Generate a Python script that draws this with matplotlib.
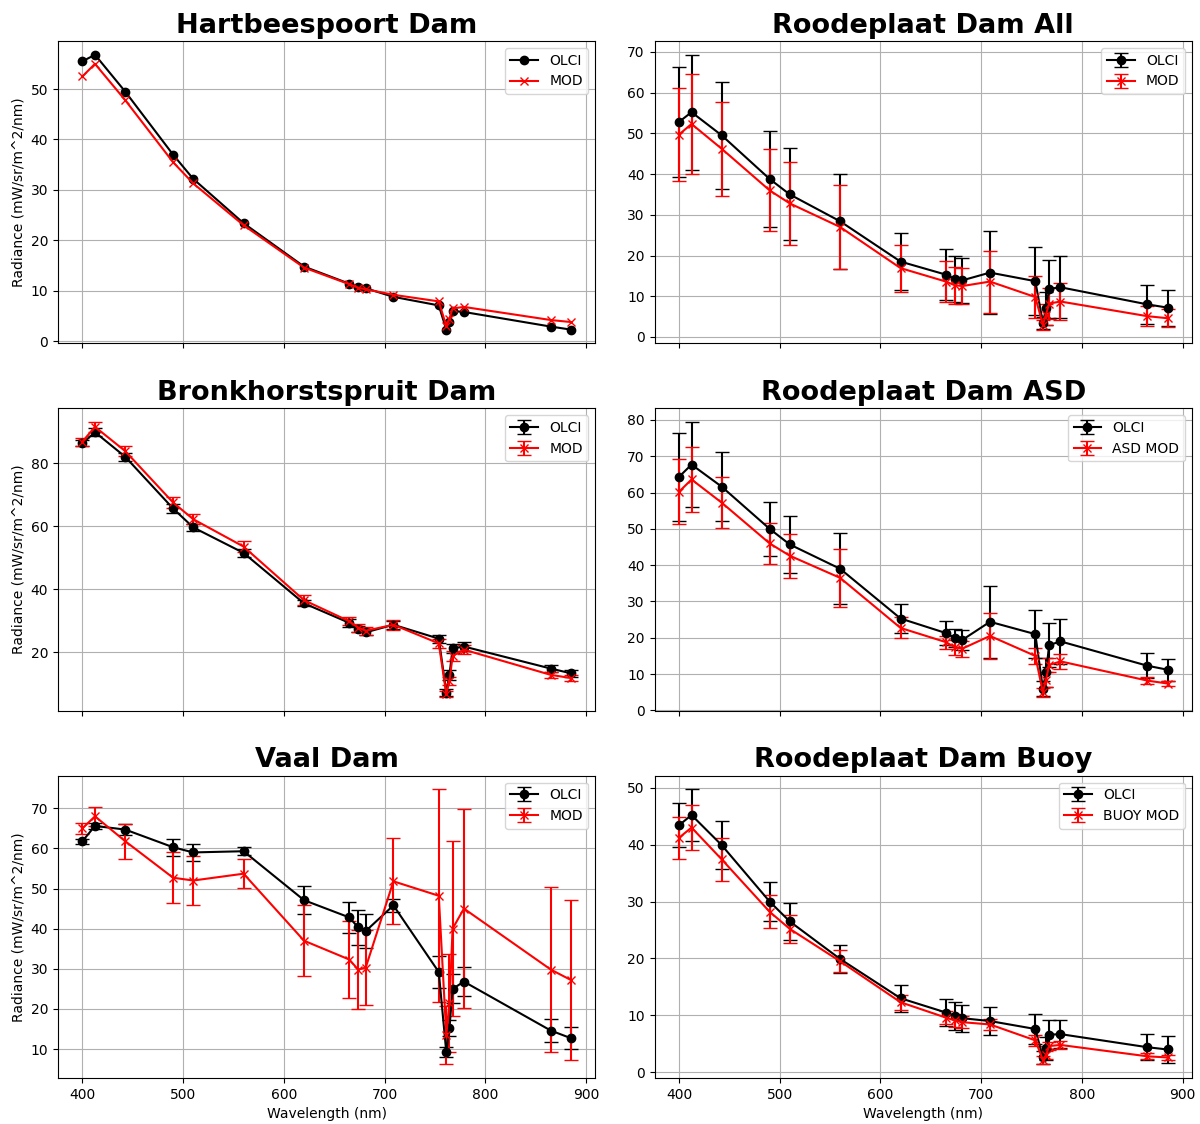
import matplotlib
matplotlib.use("Agg")
from matplotlib import pyplot as plt

# OLCI band centres (nm)
wavelength = [400, 412.5, 442.5, 490, 510, 560, 620, 665, 673.75, 681.25,
              708.75, 753.75, 761.25, 764.375, 767.5, 778.75, 865, 885]

# Hartbeespoort Dam
hart_olci = [55.5, 56.8, 49.5, 37.0, 32.2, 23.4, 14.8, 11.4, 10.8, 10.5,
             8.8, 7.1, 2.3, 3.8, 6.0, 5.8, 2.9, 2.3]
hart_mod = [52.5, 55.0, 47.8, 35.5, 31.3, 23.0, 14.6, 11.3, 10.6, 10.3,
            9.2, 7.9, 3.0, 4.5, 6.5, 6.8, 4.2, 3.8]

# Roodeplaat Dam All
rall_olci = [52.8, 55.2, 49.5, 38.8, 35.0, 28.4, 18.5, 15.3, 14.3, 13.9,
             15.8, 13.7, 3.5, 7.0, 11.8, 12.2, 8.0, 7.2]
rall_olci_err = [13.5, 14.1, 13.2, 11.7, 11.3, 11.6, 7.0, 6.2, 5.6, 5.6,
                 10.2, 8.3, 1.5, 4.0, 7.2, 7.6, 4.7, 4.4]
rall_mod = [49.7, 52.3, 46.2, 36.0, 32.8, 27.0, 16.9, 13.6, 12.7, 12.5,
            13.6, 9.8, 3.0, 5.5, 8.2, 8.7, 5.1, 4.6]
rall_mod_err = [11.5, 12.3, 11.6, 10.1, 10.1, 10.2, 5.8, 5.1, 4.5, 4.5,
                7.6, 5.1, 1.2, 2.5, 3.8, 4.5, 2.4, 2.2]

# Bronkhorstspruit Dam
bronk_olci = [86.3, 89.8, 82.0, 65.6, 59.6, 51.5, 35.5, 29.3, 27.3, 26.3,
              28.7, 24.3, 7.2, 12.8, 21.2, 21.8, 14.8, 13.3]
bronk_olci_err = [1.0, 1.2, 1.2, 1.3, 1.2, 1.2, 1.0, 1.2, 1.0, 1.0,
                  1.2, 1.3, 1.2, 1.5, 1.3, 1.3, 1.2, 1.2]
bronk_mod = [86.8, 91.5, 83.8, 67.5, 62.2, 53.5, 36.5, 29.8, 27.8, 26.8,
             28.7, 22.8, 6.8, 10.8, 18.8, 20.8, 12.8, 11.8]
bronk_mod_err = [1.3, 1.5, 1.5, 1.7, 1.6, 1.8, 1.5, 1.3, 1.3, 1.2,
                 1.6, 1.5, 1.0, 1.3, 1.5, 1.4, 1.0, 1.0]

# Roodeplaat Dam ASD
rasd_olci = [64.3, 67.7, 61.6, 50.0, 45.7, 39.0, 25.3, 21.3, 20.0, 19.4,
             24.4, 21.0, 6.0, 10.5, 18.0, 19.0, 12.3, 11.2]
rasd_olci_err = [12.1, 11.7, 9.5, 7.5, 7.8, 9.8, 4.0, 3.4, 2.5, 2.8,
                 9.9, 6.7, 2.0, 4.0, 6.0, 6.3, 3.4, 3.0]
rasd_mod = [60.2, 63.6, 57.2, 46.0, 42.6, 36.5, 22.7, 18.8, 17.4, 17.0,
            20.5, 15.0, 5.0, 8.5, 12.5, 13.5, 8.2, 7.4]
rasd_mod_err = [9.0, 9.0, 7.1, 5.7, 6.1, 8.0, 2.9, 1.8, 2.1, 2.2,
                6.3, 2.2, 1.3, 2.0, 2.0, 2.0, 0.9, 0.8]

# Vaal Dam
vaal_olci = [61.8, 65.6, 64.7, 60.3, 59.0, 59.3, 47.1, 42.8, 40.3, 39.4,
             45.8, 29.2, 9.2, 15.2, 25.0, 26.8, 14.6, 12.7]
vaal_olci_err = [0.6, 0.8, 1.4, 2.1, 2.2, 1.0, 3.5, 3.8, 4.3, 4.3,
                 1.6, 4.0, 1.3, 2.0, 3.6, 3.7, 2.9, 2.8]
vaal_mod = [65.0, 68.0, 61.8, 52.7, 52.0, 53.7, 37.0, 32.3, 29.8, 30.3,
            51.8, 48.2, 13.5, 21.5, 40.0, 45.0, 29.8, 27.2]
vaal_mod_err = [1.3, 2.4, 4.4, 6.3, 6.1, 3.6, 8.9, 9.6, 9.8, 9.3,
                10.7, 26.5, 7.3, 12.2, 21.8, 24.7, 20.6, 19.9]

# Roodeplaat Dam Buoy
rbuoy_olci = [43.4, 45.2, 39.9, 30.0, 26.5, 19.9, 13.0, 10.5, 9.9, 9.5,
              9.0, 7.6, 2.6, 4.2, 6.6, 6.7, 4.4, 4.0]
rbuoy_olci_err = [3.9, 4.5, 4.2, 3.5, 3.2, 2.4, 2.4, 2.4, 2.4, 2.4,
                  2.4, 2.7, 1.2, 2.0, 2.5, 2.5, 2.3, 2.3]
rbuoy_mod = [41.2, 43.0, 37.4, 28.2, 25.2, 19.5, 12.3, 9.6, 9.1, 8.8,
             8.4, 5.6, 2.2, 3.0, 4.6, 4.8, 2.8, 2.6]
rbuoy_mod_err = [3.7, 4.0, 3.8, 2.9, 2.5, 1.9, 1.3, 1.2, 1.1, 1.1,
                 0.9, 0.9, 0.7, 0.7, 0.7, 0.7, 0.5, 0.5]

ylabel = 'Radiance (mW/sr/m^2/nm)'

fig, axes = plt.subplots(3, 2, sharex=True, figsize=(12, 11.24), dpi=100)
fig.subplots_adjust(left=0.0483, right=0.9933, top=0.9635, bottom=0.0409,
                    wspace=0.11, hspace=0.215)


def err_panel(ax, title, olci, olci_err, mod, mod_err, mod_label='MOD'):
    ax.errorbar(wavelength, olci, yerr=olci_err, color='k', marker='o',
                capsize=5, label='OLCI')
    ax.errorbar(wavelength, mod, yerr=mod_err, color='r', marker='x',
                capsize=5, label=mod_label)
    ax.set_title(title, fontsize=19.5, fontweight='bold')
    ax.legend(loc='upper right')
    ax.grid()


# first panel has no uncertainties
ax = axes[0, 0]
ax.plot(wavelength, hart_olci, 'k-o', label='OLCI')
ax.plot(wavelength, hart_mod, 'r-x', label='MOD')
ax.set_title('Hartbeespoort Dam', fontsize=19.5, fontweight='bold')
ax.legend(loc='upper right')
ax.grid()

err_panel(axes[0, 1], 'Roodeplaat Dam All', rall_olci, rall_olci_err,
          rall_mod, rall_mod_err)
err_panel(axes[1, 0], 'Bronkhorstspruit Dam', bronk_olci, bronk_olci_err,
          bronk_mod, bronk_mod_err)
err_panel(axes[1, 1], 'Roodeplaat Dam ASD', rasd_olci, rasd_olci_err,
          rasd_mod, rasd_mod_err, mod_label='ASD MOD')
err_panel(axes[2, 0], 'Vaal Dam', vaal_olci, vaal_olci_err,
          vaal_mod, vaal_mod_err)
err_panel(axes[2, 1], 'Roodeplaat Dam Buoy', rbuoy_olci, rbuoy_olci_err,
          rbuoy_mod, rbuoy_mod_err, mod_label='BUOY MOD')

for row in axes:
    row[0].set_ylabel(ylabel)
for ax in axes[2]:
    ax.set_xlabel('Wavelength (nm)')

plt.savefig('out.png', dpi=100)
